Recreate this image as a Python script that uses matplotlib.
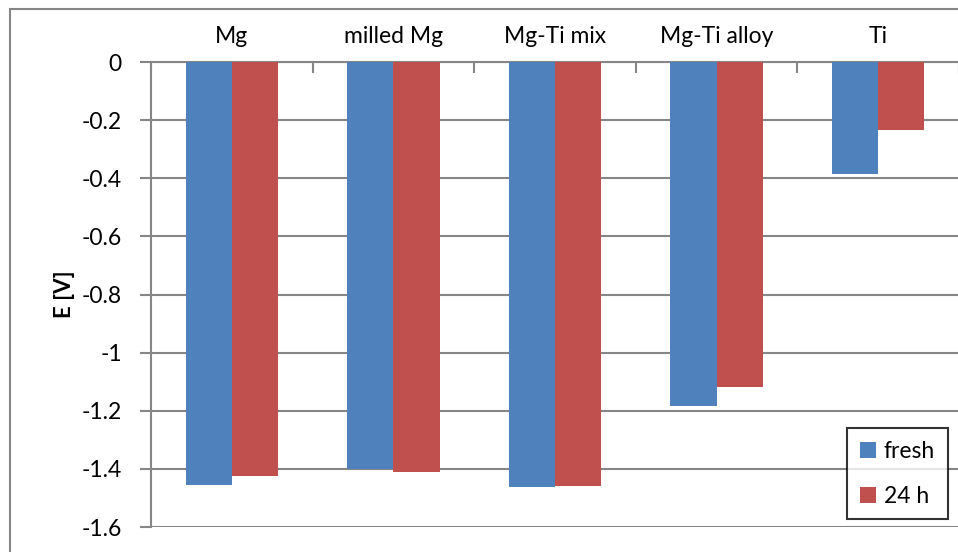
import matplotlib
matplotlib.use("Agg")
import matplotlib.pyplot as plt
import numpy as np
from matplotlib.patches import Rectangle

plt.rcParams['font.family'] = ['Lato', 'DejaVu Sans']

categories = ["Mg", "milled Mg", "Mg-Ti mix", "Mg-Ti alloy", "Ti"]
fresh = [-1.456, -1.402, -1.464, -1.184, -0.385]
after_24h = [-1.425, -1.412, -1.460, -1.117, -0.234]
series_labels = ["fresh", "24 h"]
y_ticks = [0, -0.2, -0.4, -0.6, -0.8, -1, -1.2, -1.4, -1.6]
y_tick_labels = ["0", "-0.2", "-0.4", "-0.6", "-0.8", "-1", "-1.2", "-1.4", "-1.6"]

W, H = 958, 552
fig = plt.figure(figsize=(W / 100, H / 100), dpi=100)
grid_col = "#868686"
fs = 16.5

# outer chart frame
fig.add_artist(Rectangle((10 / W, -0.1), 1.2, 1 - 9 / H + 0.1,
                         transform=fig.transFigure, fill=False,
                         edgecolor=grid_col, linewidth=1.5))

ax = fig.add_axes([151 / W, 1 - 527 / H, 808 / W, 465 / H])
x = np.arange(len(categories))
w = 1 / 3.5
ax.bar(x - w / 2, fresh, width=w, color="#4F81BD", label=series_labels[0], zorder=3)
ax.bar(x + w / 2, after_24h, width=w, color="#C0504D", label=series_labels[1], zorder=3)

ax.set_xlim(-0.5, len(categories) - 0.5)
ax.set_ylim(-1.6, 0)
ax.set_yticks(y_ticks)
ax.set_yticklabels(y_tick_labels, fontsize=fs)
ax.yaxis.grid(True, color=grid_col, linewidth=1.5, zorder=0)
ax.tick_params(axis="y", length=8, width=1.5, color=grid_col, pad=13)

ax.xaxis.set_ticks_position("top")
ax.set_xticks(x)
ax.set_xticklabels(categories, fontsize=fs)
ax.set_xticks(np.arange(len(categories) + 1) - 0.5, minor=True)
ax.tick_params(axis="x", which="major", length=0, pad=11)
ax.tick_params(axis="x", which="minor", direction="in", length=8, width=1.5,
               color=grid_col, top=True, bottom=False)

for side in ["right", "bottom"]:
    ax.spines[side].set_visible(False)
for side in ["left", "top"]:
    ax.spines[side].set_color(grid_col)
    ax.spines[side].set_linewidth(1.5)

ax.set_ylabel("E [V]", fontsize=fs - 0.5, fontweight="bold", labelpad=5)

leg = ax.legend(loc="upper left", bbox_to_anchor=(847 / W, 1 - 428 / H),
                bbox_transform=fig.transFigure, fontsize=fs, frameon=True,
                fancybox=False, handlelength=0.7, handleheight=0.7,
                handletextpad=0.35, labelspacing=1.05, borderpad=0.55,
                borderaxespad=0)
leg.get_frame().set_edgecolor("black")
leg.get_frame().set_linewidth(1.5)

fig.savefig("out.png", dpi=100)
